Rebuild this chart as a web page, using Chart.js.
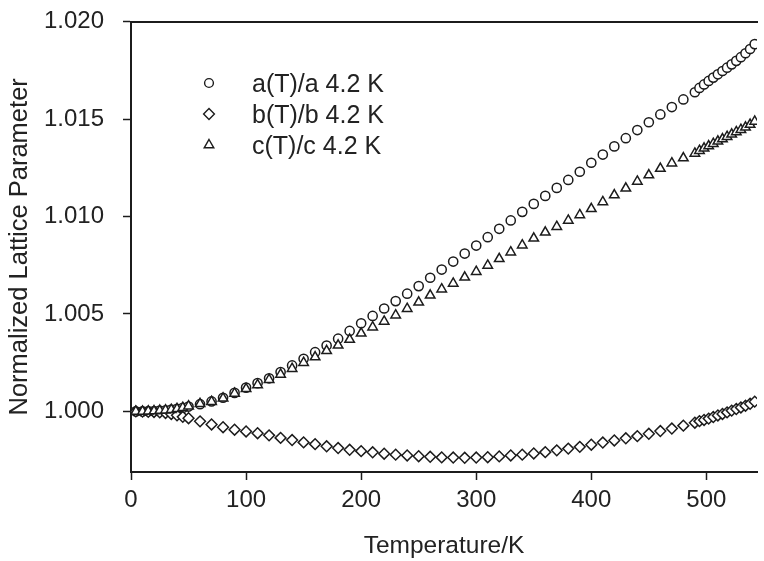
<!DOCTYPE html>
<html><head><meta charset="utf-8">
<script src="https://cdn.jsdelivr.net/npm/chart.js@4/dist/chart.umd.min.js"></script>
<style>
html,body{margin:0;padding:0;background:#fff;overflow:hidden}
#wrap{position:relative;width:764px;height:561px}
#c{display:block}
#legend{position:absolute;left:0;top:0;width:0;height:0;font-family:"Liberation Sans",Arial,sans-serif;font-size:25px;color:#222}
.item{position:absolute;white-space:nowrap;line-height:28px;height:28px}
.item svg{position:absolute;left:-52px;top:5px}
</style></head><body>
<div id="wrap"><canvas id="c" width="764" height="561"></canvas><div id="legend"></div></div>
<script>
const temperature = [4.2,10,15,20,25,30,35,40,45,50,
  60,70,80,90,100,110,120,130,140,150,160,170,180,190,200,210,220,230,240,250,
  260,270,280,290,300,310,320,330,340,350,360,370,380,390,400,410,420,430,440,450,460,470,480,490,
  494,498,502,506,510,514,518,522,526,530,534,538,542];
const aNorm = [1.00000,1.00000,1.00001,1.00002,1.00004,1.00006,1.00009,1.00013,1.00018,1.00025,
  1.00037,1.00051,1.00070,1.00095,1.00122,1.00145,1.00170,1.00202,1.00236,1.00270,1.00304,1.00338,1.00373,1.00413,1.00452,1.00490,1.00528,1.00566,1.00604,1.00643,
  1.00686,1.00728,1.00769,1.00810,1.00851,1.00894,1.00937,1.00980,1.01024,1.01065,1.01106,1.01147,1.01188,1.01230,1.01276,1.01318,1.01360,1.01402,1.01444,1.01484,1.01524,1.01562,1.01601,1.01638,
  1.01660,1.01678,1.01696,1.01713,1.01730,1.01747,1.01764,1.01781,1.01799,1.01818,1.01838,1.01860,1.01885];
const bNorm = [1.00000,0.99999,0.99998,0.99997,0.99995,0.99992,0.99987,0.99980,0.99972,0.99965,
  0.99949,0.99933,0.99919,0.99906,0.99897,0.99888,0.99877,0.99864,0.99853,0.99841,0.99832,0.99821,0.99812,0.99803,0.99796,0.99790,0.99783,0.99778,0.99774,0.99770,
  0.99767,0.99764,0.99763,0.99762,0.99763,0.99765,0.99769,0.99774,0.99778,0.99784,0.99791,0.99800,0.99809,0.99818,0.99829,0.99840,0.99851,0.99862,0.99873,0.99885,0.99899,0.99912,0.99927,0.99942,
  0.99950,0.99956,0.99963,0.99971,0.99979,0.99987,0.99995,1.00004,1.00012,1.00020,1.00029,1.00039,1.00050];
const cNorm = [1.00000,1.00000,1.00001,1.00002,1.00004,1.00006,1.00009,1.00013,1.00019,1.00027,
  1.00039,1.00050,1.00067,1.00092,1.00116,1.00136,1.00163,1.00190,1.00219,1.00250,1.00279,1.00311,1.00339,1.00369,1.00401,1.00432,1.00462,1.00494,1.00527,1.00560,
  1.00596,1.00627,1.00657,1.00688,1.00717,1.00749,1.00783,1.00817,1.00853,1.00888,1.00919,1.00948,1.00980,1.01008,1.01040,1.01075,1.01110,1.01145,1.01180,1.01213,1.01246,1.01274,1.01300,1.01324,
  1.01338,1.01350,1.01362,1.01374,1.01386,1.01398,1.01410,1.01422,1.01434,1.01446,1.01458,1.01472,1.01488];
const seriesNames = ['a(T)/a 4.2 K','b(T)/b 4.2 K','c(T)/c 4.2 K'];
const xTickValues = [0,100,200,300,400,500];
const yTickValues = [1.000,1.005,1.010,1.015,1.020];

const FONT = '"Liberation Sans", Arial, sans-serif';
const INK = '#1c1c1c';
const pts = arr => temperature.map((t,i)=>({x:t,y:arr[i]}));
const styles = [
  {pointStyle:'circle', radius:4.6, order:3},
  {pointStyle:'rectRot', radius:5.4, order:2},
  {pointStyle:'triangle', radius:5.5, order:1}
];
const datasets = [aNorm,bNorm,cNorm].map((arr,k)=>({
  label: seriesNames[k], data: pts(arr), showLine:false,
  pointStyle: styles[k].pointStyle, pointRadius: styles[k].radius, pointHoverRadius: styles[k].radius,
  pointBorderWidth:1.5, pointBorderColor:INK, pointBackgroundColor:'#fff', order: styles[k].order
}));

new Chart(document.getElementById('c'), {
  type:'scatter',
  data:{datasets},
  options:{
    responsive:false, animation:false, devicePixelRatio:1,
    layout:{padding:{left:0,right:0,top:21.7,bottom:0}},
    plugins:{legend:{display:false}, tooltip:{enabled:false}},
    scales:{
      x:{type:'linear', position:'bottom', min:0, max:544,
        afterBuildTicks: s => { s.ticks = xTickValues.map(v=>({value:v})); },
        afterFit: s => { s.height = 89; },
        grid:{drawOnChartArea:false, drawTicks:true, tickLength:8, tickWidth:1.5, tickColor:INK},
        border:{display:true, color:INK, width:2},
        ticks:{color:'#222', font:{family:FONT, size:24}, padding:6, maxRotation:0},
        title:{display:true, text:'Temperature/K', color:'#222', font:{family:FONT, size:24.5}, padding:{top:0,bottom:0}}
      },
      xTop:{type:'linear', position:'top', min:0, max:544,
        afterFit: s => { s.height = 0; s.paddingLeft = 0; s.paddingRight = 0; },
        grid:{drawOnChartArea:false, drawTicks:false},
        border:{display:true, color:INK, width:2},
        ticks:{display:false}
      },
      y:{type:'linear', position:'left', min:0.99689, max:1.020,
        afterBuildTicks: s => { s.ticks = yTickValues.map(v=>({value:v})); },
        afterFit: s => { s.width = 131; s.paddingTop = 0; s.paddingBottom = 0; },
        grid:{drawOnChartArea:false, drawTicks:true, tickLength:8, tickWidth:1.5, tickColor:INK},
        border:{display:true, color:INK, width:2},
        ticks:{color:'#222', font:{family:FONT, size:24}, padding:19, callback: v => v.toFixed(3)},
        title:{display:true, text:'Normalized Lattice Parameter', color:'#222', font:{family:FONT, size:25.5}, padding:{top:5,bottom:0}}
      }
    }
  }
});

// legend (HTML overlay, generated from the datasets)
const legend = document.getElementById('legend');
const rows = [83,114,145];
const svgFor = (style) => {
  const c = 'stroke="'+INK+'" stroke-width="1.4" fill="#fff"';
  if (style==='circle') return '<circle cx="9" cy="9" r="4.4" '+c+'/>';
  if (style==='rectRot') return '<polygon points="9,3.6 14.4,9 9,14.4 3.6,9" '+c+'/>';
  return '<polygon points="9,3.5 13.8,11.8 4.2,11.8" '+c+'/>';
};
datasets.forEach((d,k)=>{
  const el = document.createElement('div');
  el.className='item';
  el.style.left='252px';
  el.style.top=(rows[k]-14)+'px';
  el.innerHTML='<svg width="18" height="18" viewBox="0 0 18 18">'+svgFor(d.pointStyle)+'</svg>'+d.label;
  legend.appendChild(el);
});
</script>
</body></html>
